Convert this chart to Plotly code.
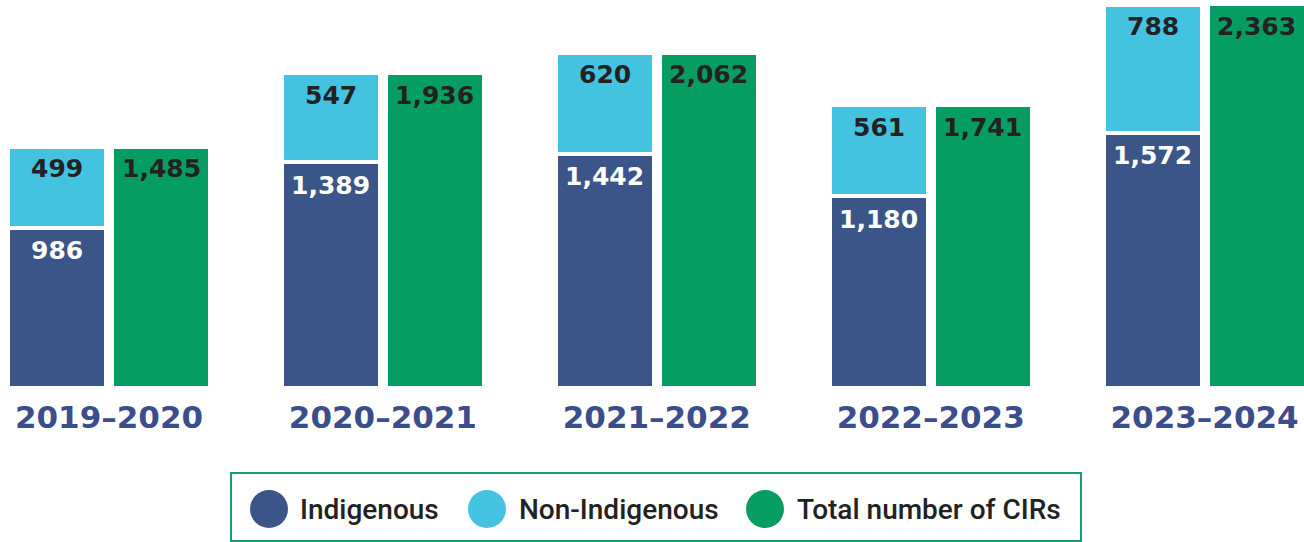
import plotly.graph_objects as go

# ---- data ----
years = ["2019–2020", "2020–2021", "2021–2022", "2022–2023", "2023–2024"]
indigenous = [986, 1389, 1442, 1180, 1572]
non_indigenous = [499, 547, 620, 561, 788]
total_cirs = [1485, 1936, 2062, 1741, 2363]
legend_labels = ["Indigenous", "Non-Indigenous", "Total number of CIRs"]

# ---- style ----
C_DARK = "#3c5589"
C_LIGHT = "#44c3e1"
C_GREEN = "#069d63"
C_LABEL = "#3b4d8a"
C_TEXT = "#222222"
OFF = 0.19
BW = 0.358
W, H = 1304, 542
PLOT_BOTTOM = 388

xs = list(range(len(years)))
x_left = [x - OFF for x in xs]
x_right = [x + OFF for x in xs]

fig = go.Figure()
line = dict(color="white", width=4)
fig.add_trace(go.Bar(x=x_left, y=indigenous, width=BW, marker=dict(color=C_DARK, line=line),
                     name=legend_labels[0], hoverinfo="y"))
fig.add_trace(go.Bar(x=x_left, y=non_indigenous, width=BW, marker=dict(color=C_LIGHT, line=line),
                     name=legend_labels[1], hoverinfo="y"))
fig.add_trace(go.Bar(x=x_right, y=total_cirs, width=BW, marker=dict(color=C_GREEN, line=line),
                     name=legend_labels[2], hoverinfo="y"))

annotations = []
lab_font = dict(family="DejaVu Sans", size=25, weight="bold")
for i in xs:
    annotations.append(dict(x=x_left[i], y=indigenous[i], xref="x", yref="y",
                            text=f"{indigenous[i]:,}", showarrow=False, yanchor="middle",
                            yshift=-23, font=dict(lab_font, color="white")))
    annotations.append(dict(x=x_left[i], y=indigenous[i] + non_indigenous[i], xref="x", yref="y",
                            text=f"{non_indigenous[i]:,}", showarrow=False, yanchor="middle",
                            yshift=-22, font=dict(lab_font, color=C_TEXT)))
    annotations.append(dict(x=x_right[i], y=total_cirs[i], xref="x", yref="y",
                            text=f"{total_cirs[i]:,}", showarrow=False, yanchor="middle",
                            yshift=-22, font=dict(lab_font, color=C_TEXT)))


def px(x):
    return x / W


def py(y):
    return (PLOT_BOTTOM - y) / PLOT_BOTTOM


shapes = [dict(type="rect", xref="paper", yref="paper", x0=px(231), x1=px(1081), y0=py(473), y1=py(541),
               line=dict(color="#13a06a", width=2), fillcolor="rgba(0,0,0,0)")]
leg_items = [(269, 298, C_DARK), (487, 517, C_LIGHT), (765, 795, C_GREEN)]
for (cx, tx, col), lab in zip(leg_items, legend_labels):
    shapes.append(dict(type="circle", xref="paper", yref="paper", x0=px(cx - 19), x1=px(cx + 19),
                       y0=py(528), y1=py(490), fillcolor=col, line=dict(width=0)))
    annotations.append(dict(x=px(tx), y=py(509), xref="paper", yref="paper", text=lab, showarrow=False,
                            xanchor="left", yanchor="middle",
                            font=dict(family="Roboto", size=28, weight=500, color=C_TEXT)))

fig.update_layout(
    width=W, height=H, barmode="stack", showlegend=False,
    margin=dict(l=0, r=0, t=0, b=H - PLOT_BOTTOM),
    plot_bgcolor="white", paper_bgcolor="white",
    xaxis=dict(range=[-0.398, 4.363], showgrid=False, zeroline=False, showline=False, ticks="",
               tickvals=xs, ticktext=years, ticklabelstandoff=8,
               tickfont=dict(family="DejaVu Sans", size=31, weight="bold", color=C_LABEL)),
    yaxis=dict(range=[0, 2388], visible=False),
    annotations=annotations, shapes=shapes,
)

fig.write_html("out.html", config={"displayModeBar": False},
               post_script="document.body.style.margin='0';document.body.style.overflow='hidden';")
